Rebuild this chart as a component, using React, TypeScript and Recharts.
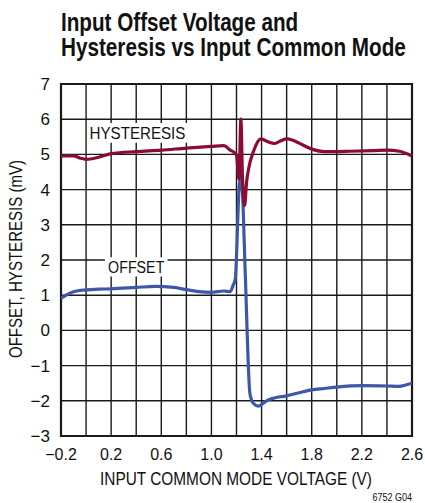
import { LineChart, Line, XAxis, YAxis, CartesianGrid, ReferenceArea } from "recharts";

const hystX = [-0.2, -0.1, -0.05, 0.0, 0.1, 0.2, 0.4, 0.6, 0.8, 1.0, 1.1, 1.15, 1.18, 1.2, 1.22, 1.235, 1.248, 1.265, 1.28, 1.3, 1.335, 1.395, 1.45, 1.5, 1.55, 1.6, 1.65, 1.7, 1.8, 1.9, 2.0, 2.1, 2.3, 2.4, 2.5, 2.55, 2.6];
const hystY = [4.96, 4.96, 4.9, 4.86, 4.92, 5.02, 5.08, 5.12, 5.18, 5.23, 5.25, 5.12, 5.06, 4.98, 4.3, 6.0, 4.3, 3.55, 4.2, 4.65, 5.08, 5.44, 5.36, 5.31, 5.38, 5.44, 5.4, 5.32, 5.15, 5.08, 5.08, 5.09, 5.11, 5.12, 5.09, 5.03, 4.95];

const offX = [-0.2, -0.15, -0.1, -0.04, 0.1, 0.2, 0.4, 0.55, 0.7, 0.8, 0.9, 1.0, 1.1, 1.15, 1.175, 1.19, 1.222, 1.235, 1.245, 1.27, 1.307, 1.334, 1.374, 1.41, 1.45, 1.5, 1.6, 1.7, 1.8, 1.9, 2.0, 2.2, 2.4, 2.5, 2.55, 2.6];
const offY = [0.92, 1.02, 1.1, 1.14, 1.17, 1.18, 1.22, 1.25, 1.22, 1.16, 1.1, 1.08, 1.12, 1.1, 1.3, 1.45, 4.1, 4.35, 4.1, 1.6, -1.79, -2.07, -2.15, -2.08, -1.98, -1.92, -1.86, -1.77, -1.69, -1.65, -1.61, -1.57, -1.58, -1.59, -1.55, -1.5];

const xTicks = [-0.2, 0, 0.2, 0.4, 0.6, 0.8, 1.0, 1.2, 1.4, 1.6, 1.8, 2.0, 2.2, 2.4, 2.6];
const xLabels = ["\u22120.2", "", "0.2", "", "0.6", "", "1.0", "", "1.4", "", "1.8", "", "2.2", "", "2.6"];
const yTicks = [-3, -2, -1, 0, 1, 2, 3, 4, 5, 6, 7];
const yLabels = ["\u22123", "\u22122", "\u22121", "0", "1", "2", "3", "4", "5", "6", "7"];

const hystData = hystX.map((x, i) => ({ x, y: hystY[i] }));
const offData = offX.map((x, i) => ({ x, y: offY[i] }));

const FONT = "'Liberation Sans', Arial, sans-serif";
const RED = "#8c0b30";
const BLUE = "#3d58a8";
const GRID = "#1a1a1a";

function XTick(props: any) {
  const i = xTicks.findIndex((t) => Math.abs(t - props.payload.value) < 1e-6);
  const lbl = i >= 0 ? xLabels[i] : "";
  if (!lbl) return null;
  return (
    <text x={props.x} y={460} textAnchor="middle" fontSize={16} fontFamily={FONT} fill="#111">
      {lbl}
    </text>
  );
}

function YTick(props: any) {
  const i = yTicks.findIndex((t) => Math.abs(t - props.payload.value) < 1e-6);
  return (
    <text x={50} y={props.y + 6} textAnchor="end" fontSize={17} fontFamily={FONT} fill="#111">
      {i >= 0 ? yLabels[i] : ""}
    </text>
  );
}

// squeezed text (the original uses a condensed face)
function Squeezed({ x, y, sx, rot = 0, anchor = "start", size, bold = false, children }: any) {
  return (
    <text
      transform={`translate(${x} ${y}) rotate(${rot}) scale(${sx} 1)`}
      textAnchor={anchor}
      fontSize={size}
      fontWeight={bold ? "bold" : "normal"}
      fontFamily={FONT}
      fill="#111"
    >
      {children}
    </text>
  );
}

function BoxLabel(text: string, sx: number) {
  return (props: any) => {
    const vb = props.viewBox;
    const cx = vb.x + vb.width / 2;
    const cy = vb.y + vb.height / 2;
    return (
      <Squeezed x={cx} y={cy + 6} sx={sx} size={17} anchor="middle">
        {text}
      </Squeezed>
    );
  };
}

export default function App() {
  return (
    <div style={{ position: "absolute", left: 0, top: 0, width: 425, height: 503, background: "#fff" }}>
      <LineChart width={425} height={503} margin={{ top: 84, right: 13, bottom: 0, left: 0 }}>
        <CartesianGrid stroke={GRID} strokeWidth={1.4} horizontal vertical />
        <XAxis
          type="number"
          dataKey="x"
          domain={[-0.2, 2.6]}
          ticks={xTicks}
          tick={<XTick />}
          tickLine={false}
          axisLine={false}
          height={67}
          allowDataOverflow
        />
        <YAxis
          type="number"
          dataKey="y"
          domain={[-3, 7]}
          ticks={yTicks}
          tick={<YTick />}
          tickLine={false}
          axisLine={false}
          width={61}
          allowDataOverflow
        />
        <ReferenceArea x1={-0.2} x2={2.6} y1={-3} y2={7} fill="none" stroke={GRID} strokeWidth={2.2} />
        <ReferenceArea x1={0.01} x2={0.81} y1={5.33} y2={5.89} fill="#fff" fillOpacity={1} stroke="none" label={BoxLabel("HYSTERESIS", 0.89)} />
        <ReferenceArea x1={0.15} x2={0.65} y1={1.53} y2={2.08} fill="#fff" fillOpacity={1} stroke="none" label={BoxLabel("OFFSET", 0.84)} />
        <Line data={offData} dataKey="y" type="monotone" stroke={BLUE} strokeWidth={3.2} dot={false} isAnimationActive={false} />
        <Line data={hystData} dataKey="y" type="monotone" stroke={RED} strokeWidth={3.2} dot={false} isAnimationActive={false} />
      </LineChart>
      <svg width={425} height={503} style={{ position: "absolute", left: 0, top: 0, pointerEvents: "none" }}>
        <Squeezed x={61} y={31} sx={0.827} size={25} bold>Input Offset Voltage and</Squeezed>
        <Squeezed x={61} y={56} sx={0.828} size={25} bold>Hysteresis vs Input Common Mode</Squeezed>
        <Squeezed x={236} y={485} sx={0.811} size={19} anchor="middle">INPUT COMMON MODE VOLTAGE (V)</Squeezed>
        <Squeezed x={22} y={259} sx={0.793} size={19} rot={-90} anchor="middle">OFFSET, HYSTERESIS (mV)</Squeezed>
        <Squeezed x={412} y={501} sx={0.9} size={10} anchor="end">6752 G04</Squeezed>
      </svg>
    </div>
  );
}
